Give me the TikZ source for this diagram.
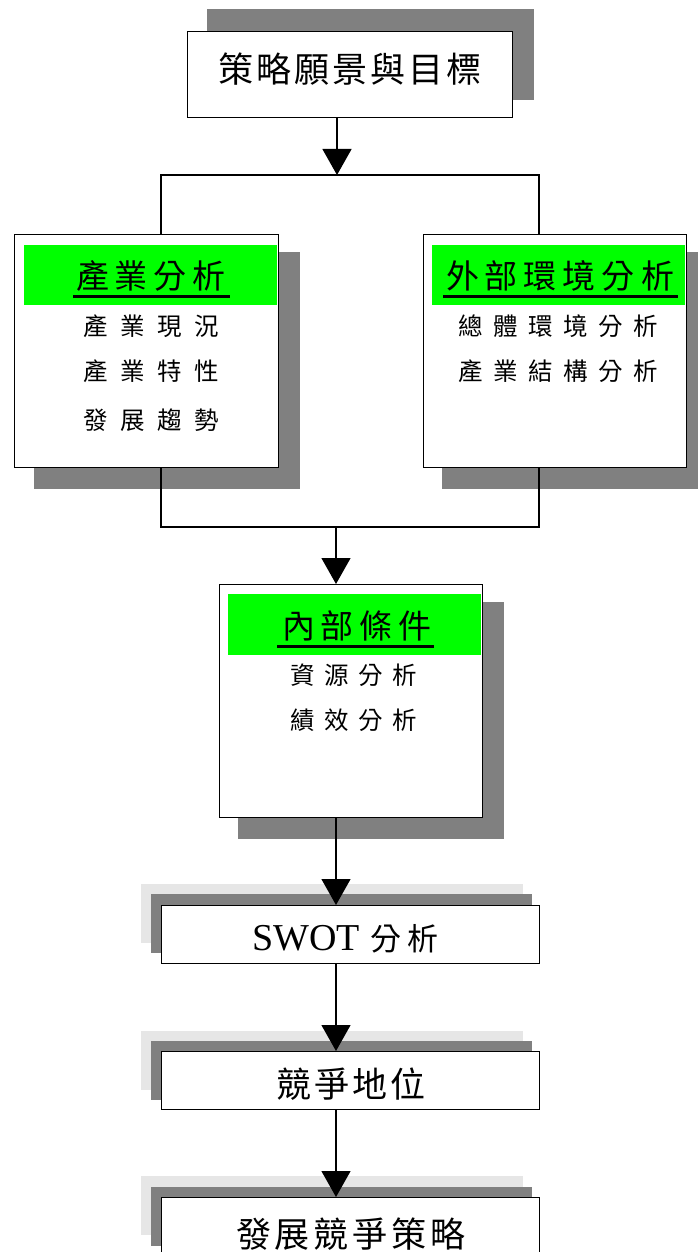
\documentclass[tikz,border=0pt]{standalone}
\usepackage{fontspec}
\setmainfont{Liberation Serif}
\newfontfamily\cjk{Noto Sans CJK TC}
\usetikzlibrary{arrows.meta}
\makeatletter
\def\spc#1#2{\def\spc@w{#1}\spc@loop#2\@nil}
\def\spc@loop#1{\ifx#1\@nil\else\makebox[\spc@w]{#1}\expandafter\spc@loop\fi}
\makeatother
\definecolor{shdark}{RGB}{128,128,128}
\definecolor{shlight}{RGB}{230,230,230}
\definecolor{band}{RGB}{0,255,0}
\begin{document}
\begin{tikzpicture}[x=1pt,y=-1pt,
  boxn/.style={draw=black, line width=1.4pt, fill=white, inner sep=0pt, anchor=north west},
  greenband/.style={fill=band, inner sep=0pt, anchor=north west, minimum width=253pt, minimum height=60pt},
  big/.style={inner sep=0pt, font=\cjk\fontsize{35}{40}\selectfont},
  titletext/.style={inner sep=0pt, font=\cjk\fontsize{33}{38}\selectfont},
  subtext/.style={inner sep=0pt, font=\cjk\fontsize{24.5}{29}\selectfont},
  conn/.style={line width=1.3pt},
  arr/.style={line width=1.3pt, -{Triangle[width=29pt,length=26pt]}},
  uline/.style={line width=3pt}]
\clip (0,0) rectangle (698,1252);
\fill[white] (0,0) rectangle (698,1252);
% shadows
\fill[shdark] (207,9) rectangle (534,100);
\fill[shdark] (34,252) rectangle (300,489);
\fill[shdark] (442,252) rectangle (708,489);
\fill[shdark] (238,602) rectangle (504,839);
\fill[shlight] (141,884) rectangle (523,943);
\fill[shdark] (151,894) rectangle (532,953);
\fill[shlight] (141,1031) rectangle (523,1090);
\fill[shdark] (151,1041) rectangle (532,1100);
\fill[shlight] (141,1176) rectangle (523,1235);
\fill[shdark] (151,1187) rectangle (532,1246);
% boxes
\node[boxn, minimum width=325pt, minimum height=86pt] (top) at (187,31) {};
\node[boxn, minimum width=264pt, minimum height=233pt] (lb) at (14,234) {};
\node[boxn, minimum width=263pt, minimum height=233pt] (rb) at (423,234) {};
\node[boxn, minimum width=263pt, minimum height=233pt] (ib) at (219,584) {};
\node[boxn, minimum width=378pt, minimum height=58pt] (sw) at (161,905) {};
\node[boxn, minimum width=378pt, minimum height=58pt] (cp) at (161,1051) {};
\node[boxn, minimum width=378pt, minimum height=58pt] (dv) at (161,1197) {};
% green bands
\node[greenband] (lbg) at (24,245) {};
\node[greenband] (rbg) at (432,245) {};
\node[greenband, minimum height=61pt] (ibg) at (228,594) {};
% texts
\node[big] (toptxt) at (350,69) {\spc{38pt}{策略願景與目標}};
\node[titletext] (lbt) at (151,276) {\spc{39pt}{產業分析}};
\node[titletext] (rbt) at (560,276) {\spc{39pt}{外部環境分析}};
\node[titletext] (ibt) at (357,626) {\spc{39pt}{內部條件}};
\draw[uline] (73,296) -- (230,296);
\draw[uline] (443,296) -- (678,296);
\draw[uline] (277,646) -- (434,646);
\node[subtext] (l1) at (151,326) {\spc{37pt}{產業現況}};
\node[subtext] (l2) at (151,371) {\spc{37pt}{產業特性}};
\node[subtext] (l3) at (151,420) {\spc{37pt}{發展趨勢}};
\node[subtext] (r1) at (558,326) {\spc{35pt}{總體環境分析}};
\node[subtext] (r2) at (558,371) {\spc{35pt}{產業結構分析}};
\node[subtext] (i1) at (354,675) {\spc{34pt}{資源分析}};
\node[subtext] (i2) at (354,720) {\spc{34pt}{績效分析}};
\node[inner sep=0pt] (swt) at (347,939) {\fontsize{38}{44}\selectfont SWOT\hspace{8pt}{\cjk\fontsize{31}{36}\selectfont\spc{37pt}{分析}}};
\node[big] (cpt) at (351,1084) {\spc{38pt}{競爭地位}};
\node[big] (dvt) at (351,1234) {\spc{39pt}{發展競爭策略}};
% connectors
\coordinate (j1) at (337,175);
\coordinate (j2) at (336,527);
\coordinate (lx) at (161,0);
\coordinate (rx) at (539,0);
\draw[arr] (top.south -| j1) -- (j1);
\draw[conn] (lb.north -| lx) |- (j1) -| (rb.north -| rx);
\draw[conn] (lb.south -| lx) |- (j2) -| (rb.south -| rx);
\draw[arr] (j2) -- (ib.north -| j2);
\draw[arr] (ib.south -| j2) -- (sw.north -| j2);
\draw[arr] (sw.south -| j2) -- (cp.north -| j2);
\draw[arr] (cp.south -| j2) -- (dv.north -| j2);
\end{tikzpicture}
\end{document}
